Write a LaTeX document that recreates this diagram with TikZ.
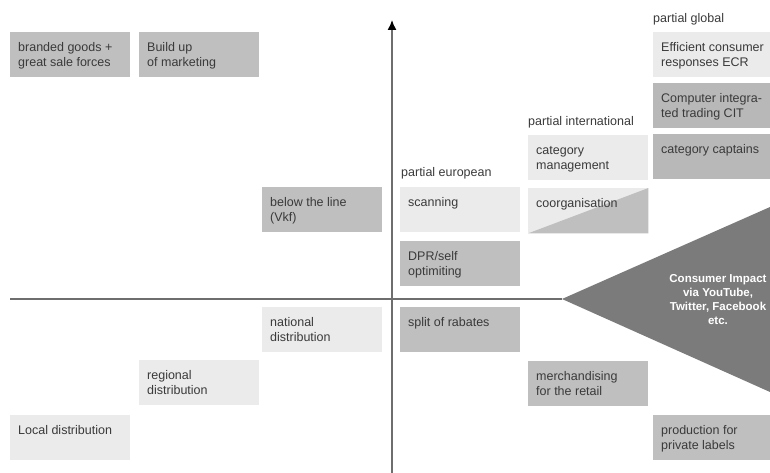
\documentclass[tikz,border=0pt]{standalone}
\usepackage{fontspec}
\setmainfont{Liberation Sans}
\usetikzlibrary{arrows.meta}
\definecolor{darkbox}{HTML}{BFBFBF}
\definecolor{darkbox2}{HTML}{B8B8B8}
\definecolor{lightbox}{HTML}{EBEBEB}
\definecolor{tri}{HTML}{7B7B7B}
\definecolor{txtc}{HTML}{3A3A3A}
\definecolor{axisc}{HTML}{6E6E6E}
\tikzset{
  box/.style={anchor=north west, minimum width=120pt, minimum height=45pt, inner sep=0pt, draw=none},
  dk/.style={box, fill=darkbox},
  dk2/.style={box, fill=darkbox2},
  lt/.style={box, fill=lightbox},
  txt/.style={anchor=north west, inner sep=0pt, align=left, text=txtc,
    font=\fontsize{12.5pt}{15pt}\selectfont},
  lbl/.style={anchor=base west, inner sep=0pt, text=txtc,
    font=\fontsize{12.5pt}{15pt}\selectfont},
}
\newcommand{\boxtext}[2]{\node[txt] at ([xshift=8pt,yshift=-9.6pt]#1.north west) {\rule{0pt}{9.4pt}#2};}
\begin{document}
\begin{tikzpicture}[x=1pt,y=-1pt]
\useasboundingbox (0,0) rectangle (770,473);
% boxes
\node[dk] (bg) at (10,32) {};
\node[dk] (bu) at (139,32) {};
\node[dk] (bl) at (262,187) {};
\node[lt] (sc) at (400,187) {};
\node[dk] (dpr) at (400,241) {};
\node[lt] (cm) at (528,135) {};
\node[lt] (co) at (528,188) {};
\fill[darkbox] (co.south west) -- (co.north east) -- (co.south east) -- cycle;
\node[lt, minimum width=117pt] (ecr) at (653,32) {};
\node[dk2, minimum width=117pt] (cit) at (653,83) {};
\node[dk2, minimum width=117pt] (cc) at (653,134) {};
\node[lt] (nd) at (262,307) {};
\node[lt] (rd) at (139,360) {};
\node[lt] (ld) at (10,415) {};
\node[dk] (sr) at (400,307) {};
\node[dk] (mr) at (528,361) {};
\node[dk, minimum width=117pt] (pl) at (653,415) {};
% texts
\boxtext{bg}{branded goods +\\great sale forces}
\boxtext{bu}{Build up\\of marketing}
\boxtext{bl}{below the line\\(Vkf)}
\boxtext{sc}{scanning}
\boxtext{dpr}{DPR/self\\optimiting}
\boxtext{cm}{category\\management}
\boxtext{co}{coorganisation}
\boxtext{ecr}{Efficient consumer\\responses ECR}
\boxtext{cit}{Computer integra-\\ted trading CIT}
\boxtext{cc}{category captains}
\boxtext{nd}{national\\distribution}
\boxtext{rd}{regional\\distribution}
\boxtext{ld}{Local distribution}
\boxtext{sr}{split of rabates}
\boxtext{mr}{merchandising\\for the retail}
\boxtext{pl}{production for\\private labels}
% column labels
\node[lbl] (pe) at (401,176) {partial european};
\node[lbl] (pi) at (528,126) {partial international};
\node[lbl] (pg) at (653,23) {partial global};
% triangle
\coordinate (tip) at (562,299);
\coordinate (tr) at (770,207);
\coordinate (br) at (770,392);
\fill[tri] (tip) -- (tr) -- (br) -- cycle;
\node[text=white, align=center, inner sep=0pt,
  font=\fontsize{11.5pt}{14pt}\selectfont\bfseries] (ci) at (718,300)
  {Consumer Impact\\via YouTube,\\Twitter, Facebook\\etc.};
% axes
\coordinate (hl) at (10,299);
\draw[axisc, line width=1.6pt] (hl) -- (tip);
\coordinate (vb) at (392,473);
\coordinate (vt) at (392,20);
\draw[axisc, line width=1.4pt, -{Latex[length=10pt,width=9pt,black]}] (vb) -- (vt);
\end{tikzpicture}
\end{document}
